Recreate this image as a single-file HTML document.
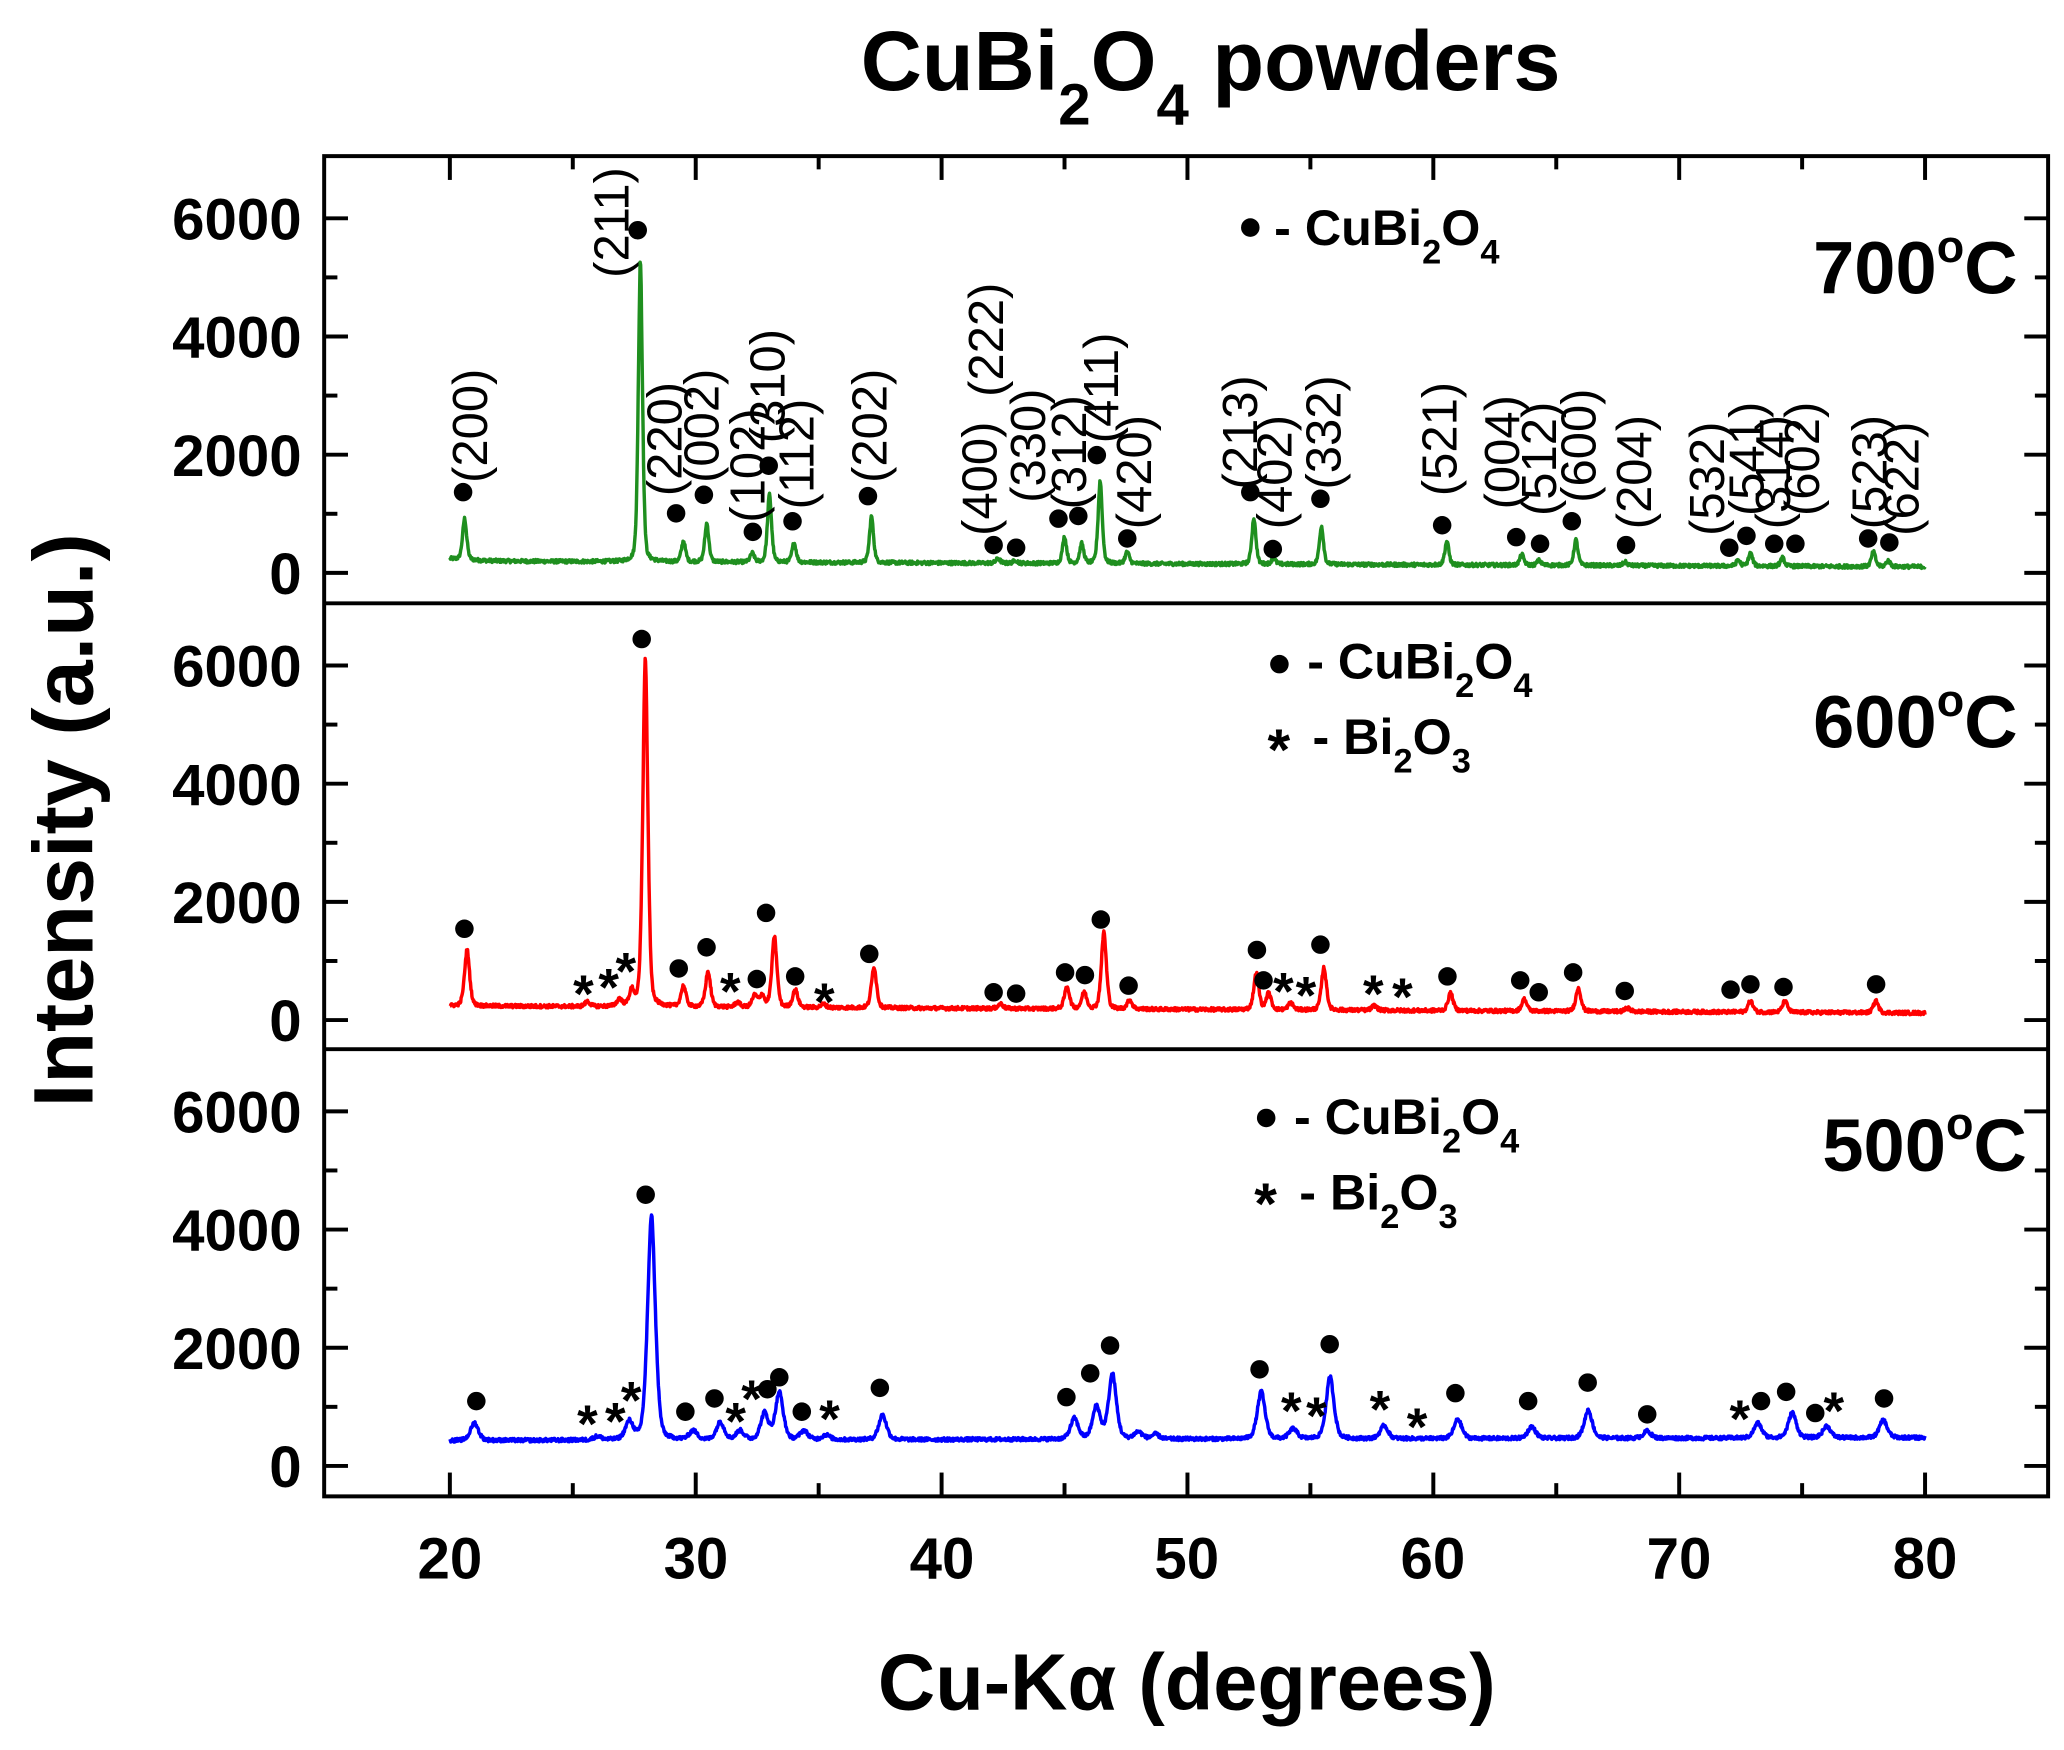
<!DOCTYPE html>
<html><head><meta charset="utf-8"><style>
html,body{margin:0;padding:0;background:#fff;}
svg{display:block;}
text{font-family:"Liberation Sans",Arial,sans-serif;}
.b{font-weight:bold;}
</style></head><body>
<svg id="s" width="2064" height="1750" viewBox="0 0 1560 1322.7" xmlns="http://www.w3.org/2000/svg">
<rect x="0" y="0" width="1560" height="1323" fill="#fff"/>
<text x="915" y="68" text-anchor="middle" class="b" font-size="64">CuBi<tspan font-size="44" dy="26">2</tspan><tspan dy="-26">O</tspan><tspan font-size="44" dy="26">4</tspan><tspan dy="-26"> powders</tspan></text>
<g id="plots"></g>
<g id="frame" fill="none" stroke="#000" stroke-width="3">
<rect x="245" y="118" width="1303" height="1013"/>
<line x1="245" y1="456" x2="1548" y2="456"/>
<line x1="245" y1="793" x2="1548" y2="793"/>
</g>
<g id="ticks" stroke="#000" stroke-width="3"></g>
<g id="labels" class="b" font-size="44" text-anchor="end"></g>
<g id="xl" class="b" font-size="44" text-anchor="middle">
<text x="340" y="1193">20</text><text x="526" y="1193">30</text><text x="712" y="1193">40</text><text x="897" y="1193">50</text><text x="1083" y="1193">60</text><text x="1269" y="1193">70</text><text x="1455" y="1193">80</text>
</g>
<text x="897" y="1292" text-anchor="middle" class="b" font-size="60">Cu-Kα (degrees)</text>
<text transform="translate(70,620) rotate(-90)" text-anchor="middle" class="b" font-size="64">Intensity (a.u.)</text>
<g class="b" font-size="56" text-anchor="end">
<text x="1525" y="222">700<tspan font-size="34" dy="-24">o</tspan><tspan dy="24">C</tspan></text>
<text x="1525" y="565">600<tspan font-size="34" dy="-24">o</tspan><tspan dy="24">C</tspan></text>
<text x="1532" y="885">500<tspan font-size="34" dy="-24">o</tspan><tspan dy="24">C</tspan></text>
</g>
<g class="b" font-size="38">
<circle cx="945" cy="172" r="7"/><text x="963" y="185">- CuBi<tspan font-size="26" dy="14">2</tspan><tspan dy="-14">O</tspan><tspan font-size="26" dy="14">4</tspan></text>
<circle cx="967" cy="502" r="7"/><text x="988" y="513">- CuBi<tspan font-size="26" dy="14">2</tspan><tspan dy="-14">O</tspan><tspan font-size="26" dy="14">4</tspan></text>
<text x="958" y="582" font-size="44">*</text><text x="992" y="570">- Bi<tspan font-size="26" dy="14">2</tspan><tspan dy="-14">O</tspan><tspan font-size="26" dy="14">3</tspan></text>
<circle cx="957" cy="845" r="7"/><text x="978" y="857">- CuBi<tspan font-size="26" dy="14">2</tspan><tspan dy="-14">O</tspan><tspan font-size="26" dy="14">4</tspan></text>
<text x="948" y="925" font-size="44">*</text><text x="982" y="914">- Bi<tspan font-size="26" dy="14">2</tspan><tspan dy="-14">O</tspan><tspan font-size="26" dy="14">3</tspan></text>
</g>
<g id="marks"></g>
</svg>
<script>
var NS="http://www.w3.org/2000/svg";
function X(d){return 340+(d-20)*1115/60;}
function el(t,a,p,txt){var e=document.createElementNS(NS,t);for(var k in a)e.setAttribute(k,a[k]);if(txt!=null)e.textContent=txt;p.appendChild(e);return e;}
var seed=12345;function rnd(){seed=(seed*1103515245+12345)%2147483648;return seed/2147483648;}
var tops=[118,456,793];
var data=[
 {c:"#1f8f1f",w:0.09,base:function(x){return 200-(x-20)*1.6+(x<27?40*Math.exp(-(x-20)/1):0);},
  p:[[20.6,700],[27.75,5100],[29.5,350],[30.45,650],[32.3,150],[33.0,1150],[34.0,330],[37.15,780],[42.3,80],[43.0,50],[45.0,450],[45.7,330],[46.45,1400],[47.55,200],[52.7,780],[53.5,100],[55.45,650],[60.55,400],[63.6,180],[64.3,80],[65.8,430],[67.8,60],[72.4,100],[72.9,220],[74.2,140],[77.9,250],[78.5,100]]},
 {c:"#ff0000",w:0.11,base:function(x){return 240-(x-20)*2;},
  p:[[20.7,950],[25.6,80],[26.9,120],[27.4,250],[27.95,5900],[29.5,350],[30.5,600],[31.7,80],[32.4,200],[32.7,200],[33.2,1200],[34.05,300],[35.2,60],[37.25,700],[42.4,80],[45.1,380],[45.8,280],[46.6,1300],[47.65,150],[52.8,620],[53.3,280],[54.2,120],[55.55,720],[57.6,80],[60.7,300],[63.7,200],[65.9,400],[67.9,60],[72.9,190],[74.3,190],[78.0,200]]},
 {c:"#0000ff",w:0.17,base:function(x){return 430+(x-20)*0.8;},
  p:[[21.0,300],[26.0,60],[27.3,300],[28.2,3800],[29.9,150],[31.0,300],[31.8,150],[32.8,450],[33.4,800],[34.4,150],[35.3,80],[37.6,420],[45.4,350],[46.3,550],[46.95,1100],[48.0,120],[48.7,80],[53.0,800],[54.3,170],[55.8,1050],[58.0,220],[61.0,330],[64.0,200],[66.3,480],[68.7,120],[73.2,250],[74.6,430],[76.0,200],[78.3,300]]}
];
var g=document.getElementById("plots");
data.forEach(function(s,i){
 var T=tops[i],d="";
 for(var x=20;x<=80.001;x+=0.02){
  var v=s.base(x)+(rnd()-0.5)*60;
  s.p.forEach(function(q){var u=(x-q[0])/s.w;v+=q[1]*(0.6*Math.exp(-u*u/2)+0.4/(1+u*u*1.2));});
  var y=T+315-v*268/6000;
  d+=(d?"L":"M")+X(x).toFixed(1)+" "+y.toFixed(1);
 }
 el("path",{d:d,fill:"none",stroke:s.c,"stroke-width":2.6,"stroke-linejoin":"round"},g);
});
var tk=document.getElementById("ticks"),lb=document.getElementById("labels");
tops.forEach(function(T,i){
 for(var v=0;v<=7000;v+=1000){var y=T+315-v*268/6000;if(y<T+4)continue;var L=(v%2000==0)?18:10;
  el("line",{x1:245,y1:y,x2:245+L,y2:y},tk);el("line",{x1:1548,y1:y,x2:1548-L,y2:y},tk);
  if(v%2000==0&&v<=6000)el("text",{x:228,y:y+16},lb,String(v));}
});
for(var d=15;d<=85;d+=5){var x=X(d);if(x<248||x>1545)continue;var L=(d%10==0)?18:10;
 el("line",{x1:x,y1:1131,x2:x,y2:1131-L},tk);el("line",{x1:x,y1:118,x2:x,y2:118+L},tk);}
var m=document.getElementById("marks");
var dots=[[350,372],[482,174],[511,388],[532,374],[569,402],[581,352],[599,394],[656,375],[751,412],[768,414],[800,392],[815,390],[829,344],[852,407],[945,372],[962,415],[998,377],[1090,397],[1146,406],[1164,411],[1188,394],[1229,412],[1307,414],[1320,405],[1341,411],[1357,411],[1412,407],[1428,410],
[351,702],[485,483],[513,732],[534,716],[572,740],[579,690],[601,738],[657,721],[751,750],[768,751],[805,735],[820,737],[832,695],[853,745],[950,718],[955,741],[998,714],[1094,738],[1149,741],[1163,750],[1189,735],[1228,749],[1308,748],[1323,744],[1348,746],[1418,744],
[360,1059],[488,903],[518,1067],[540,1057],[580,1050],[589,1041],[606,1067],[665,1049],[806,1056],[824,1038],[839,1017],[952,1035],[1005,1016],[1100,1053],[1155,1059],[1200,1045],[1245,1069],[1331,1059],[1350,1052],[1372,1068],[1424,1057]];
dots.forEach(function(p){el("circle",{cx:p[0],cy:p[1],r:7},m);});
var stars=[[441,745],[460,740],[473,728],[552,743],[623,751],[970,743],[987,746],[1038,745],[1060,747],
[444,1070],[465,1068],[477,1052],[556,1068],[568,1051],[627,1066],[976,1060],[995,1064],[1043,1059],[1071,1072],[1315,1066],[1386,1060]];
stars.forEach(function(p){el("text",{x:p[0],y:p[1]+20,"font-size":40,"text-anchor":"middle","font-weight":"bold"},m,"*");});
var hkl=[["(200)",355,365],["(211)",462,210],["(220)",502,375],["(002)",530,365],["(102)",565,395],["(310)",580,335],["(112)",602,385],["(202)",657,365],["(400)",740,405],["(222)",745,300],["(330)",777,380],["(312)",808,385],["(411)",832,335],["(420)",857,400],["(213)",937,370],["(402)",963,400],["(332)",1000,370],["(521)",1088,375],["(004)",1135,385],["(512)",1163,390],["(600)",1193,380],["(204)",1235,400],["(532)",1290,405],["(541)",1320,390],["(314)",1340,400],["(602)",1362,390],["(523)",1413,400],["(622)",1437,405]];
hkl.forEach(function(h){el("text",{transform:"translate("+(h[1]+13)+","+h[2]+") rotate(-90)","font-size":37},m,h[0]);});
</script>
</body></html>
